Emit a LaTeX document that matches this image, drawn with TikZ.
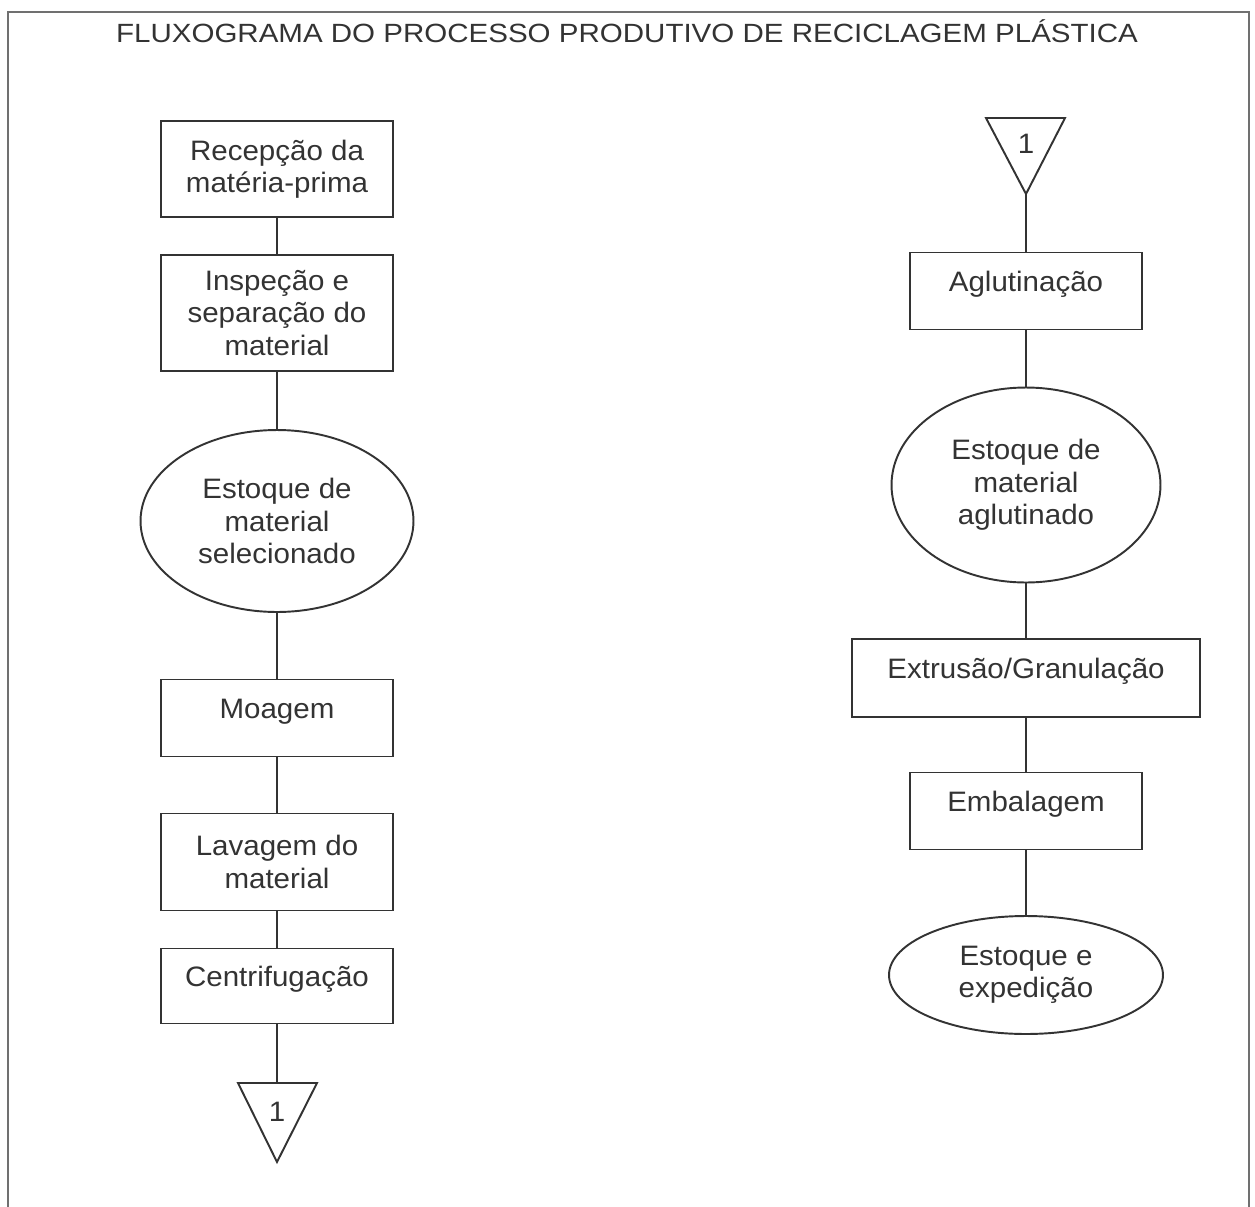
\documentclass[tikz,border=0pt]{standalone}
\usepackage{fontspec}
\setmainfont[FakeStretch=1.05]{Liberation Sans}
\newfontfamily\titlefont[FakeStretch=1.12]{Liberation Sans}
\usetikzlibrary{shapes.geometric}
\definecolor{ink}{HTML}{333333}
\definecolor{framegray}{HTML}{707070}

\begin{document}
\begin{tikzpicture}[x=0.02cm, y=-0.02cm,
    every node/.style={font=\fontsize{16}{18.4}\selectfont, text=ink},
    box/.style={draw=ink, line width=1.1pt, rectangle, inner sep=0pt,
        minimum width=4.64cm, align=center},
    oneline/.style={text height=12pt, text depth=12pt},
    stock/.style={draw=ink, line width=1.1pt, ellipse, inner sep=0pt, align=center},
    link/.style={draw=ink, line width=1.1pt}]

    \useasboundingbox (0,0) rectangle (1255,1207);

    % Frame
    \draw[framegray, line width=1pt] (8,1207) -- (8,12) -- (1249,12) -- (1249,1207);

    % Title
    \node[anchor=base, font=\titlefont\fontsize{15}{17}\selectfont] (title) at (627,42)
        {FLUXOGRAMA DO PROCESSO PRODUTIVO DE RECICLAGEM PLÁSTICA};

    % Left column
    \node[box, minimum height=1.92cm] (recv) at (277,169) {Recepção da\\matéria-prima};
    \node[box, minimum height=2.32cm] (insp) at (277,313) {Inspeção e\\separação do\\material};
    \node[stock, minimum width=5.46cm, minimum height=3.64cm] (selstock) at (277,521)
        {Estoque de\\material\\selecionado};
    \node[box, oneline, minimum height=1.54cm] (grind) at (277,718) {Moagem};
    \node[box, minimum height=1.94cm] (wash) at (277,862) {Lavagem do\\material};
    \node[box, oneline, minimum height=1.5cm] (spin) at (277,986) {Centrifugação};

    % Connector 1 (left)
    \coordinate (tri1top) at (277,1083);
    \draw[link] (238,1083) -- (317,1083) -- (277,1162) -- cycle;
    \node (mark1) at (277,1112) {1};

    \draw[link] (recv) -- (insp);
    \draw[link] (insp) -- (selstock);
    \draw[link] (selstock) -- (grind);
    \draw[link] (grind) -- (wash);
    \draw[link] (wash) -- (spin);
    \draw[link] (spin) -- (tri1top);

    % Connector 1 (right)
    \coordinate (tri2tip) at (1026,194);
    \draw[link] (986,118) -- (1065,118) -- (1026,194) -- cycle;
    \node (mark2) at (1026,144) {1};

    % Right column
    \node[box, oneline, minimum height=1.54cm] (agl) at (1026,291) {Aglutinação};
    \node[stock, minimum width=5.38cm, minimum height=3.9cm] (aglstock) at (1026,485)
        {Estoque de\\material\\aglutinado};
    \node[box, oneline, minimum width=6.96cm, minimum height=1.56cm] (extr) at (1026,678)
        {Extrusão/Granulação};
    \node[box, oneline, minimum height=1.54cm] (pack) at (1026,811) {Embalagem};
    \node[stock, minimum width=5.48cm, minimum height=2.36cm] (ship) at (1026,975)
        {Estoque e\\expedição};

    \draw[link] (tri2tip) -- (agl);
    \draw[link] (agl) -- (aglstock);
    \draw[link] (aglstock) -- (extr);
    \draw[link] (extr) -- (pack);
    \draw[link] (pack) -- (ship);

\end{tikzpicture}
\end{document}
